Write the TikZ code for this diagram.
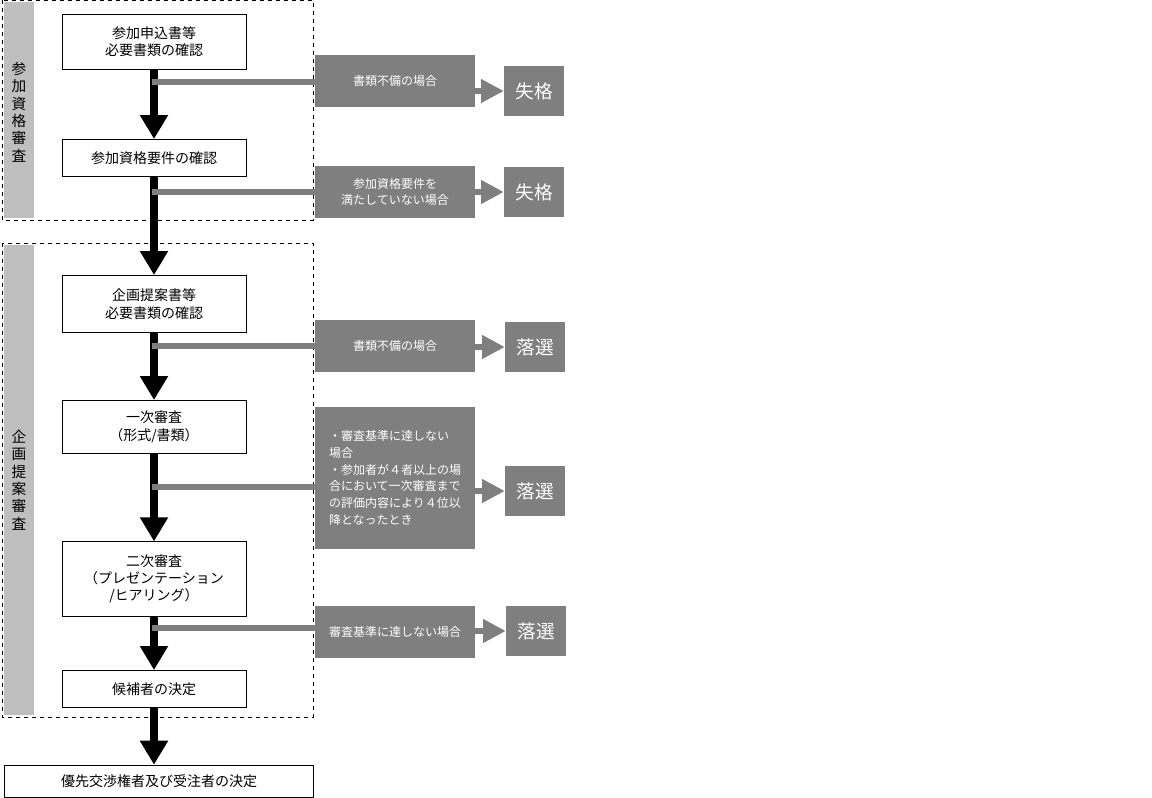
\documentclass[tikz,border=0pt]{standalone}
\usepackage{fontspec}
\setmainfont{Noto Sans CJK JP}
\usetikzlibrary{arrows.meta}
\definecolor{bargray}{HTML}{7F7F7F}
\definecolor{sidegray}{HTML}{BFBFBF}
\begin{document}
\begin{tikzpicture}[x=0.75pt, y=-0.75pt,
    stage/.style = {draw, thin, fill=white, minimum width=138pt, align=center, font=\fontsize{10.5}{13}\selectfont},
    note/.style = {fill=bargray, text=white, minimum width=120pt, minimum height=39pt, align=center, font=\fontsize{9}{11.5}\selectfont},
    result/.style = {fill=bargray, text=white, minimum width=45pt, minimum height=38pt, font=\fontsize{14}{16}\selectfont},
    flow/.style = {-{Triangle[length=18pt, width=20pt]}, line width=6.5pt, black},
    branch/.style = {bargray, line width=5pt},
    outarrow/.style = {-{Triangle[length=17pt, width=17pt]}, bargray, line width=4pt},
    group/.style = {draw, dashed, thin}]
    \useasboundingbox (0,0) rectangle (1152,798);

    % groups
    \draw[group] (2,0) rectangle (313,220);
    \fill[sidegray] (4,2) rectangle (34,218);
    \node[align=center, font=\fontsize{11}{13}\selectfont] (g1) at (19,112) {参\\加\\資\\格\\審\\査};
    \draw[group] (2,243) rectangle (313,717);
    \fill[sidegray] (4,245) rectangle (34,715);
    \node[align=center, font=\fontsize{11}{13}\selectfont] (g2) at (19,480) {企\\画\\提\\案\\審\\査};

    % stages
    \node[stage, minimum height=41pt] (apply) at (154,42) {参加申込書等\\必要書類の確認};
    \node[stage, minimum height=28pt] (qual) at (154,158) {参加資格要件の確認};
    \node[stage, minimum height=43pt] (plan) at (154,304) {企画提案書等\\必要書類の確認};
    \node[stage, minimum height=40pt] (first) at (154,427) {一次審査\\（形式/書類）};
    \node[stage, minimum height=56pt] (second) at (154,579) {二次審査\\（プレゼンテーション\\/ヒアリング）};
    \node[stage, minimum height=28pt] (cand) at (154,689) {候補者の決定};
    \node[stage, minimum width=232pt, minimum height=24pt] (final) at (159,781) {優先交渉権者及び受注者の決定};

    % main flow
    \draw[flow] (apply) -- (qual);
    \draw[flow] (qual) -- (plan);
    \draw[flow] (plan) -- (first);
    \draw[flow] (first) -- (second);
    \draw[flow] (second) -- (cand);
    \draw[flow] (cand.south) -- (cand.south |- final.north);

    % branches
    \node[note] (n1) at (395,81) {書類不備の場合};
    \node[note] (n2) at (395,192) {参加資格要件を\\満たしていない場合};
    \node[note] (n3) at (395,346) {書類不備の場合};
    \node[note, minimum height=107pt, align=left, font=\fontsize{9}{12.5}\selectfont] (n4) at (395,478) {・審査基準に達しない\\場合\\・参加者が４者以上の場\\合において一次審査まで\\の評価内容により４位以\\降となったとき};
    \node[note] (n5) at (395,632) {審査基準に達しない場合};

    \node[result] (r1) at (534,91) {失格};
    \node[result] (r2) at (534,192) {失格};
    \node[result] (r3) at (535,347) {落選};
    \node[result] (r4) at (535,491) {落選};
    \node[result] (r5) at (536,631) {落選};

    \coordinate (b1) at (152,82);
    \coordinate (b2) at (152,192);
    \coordinate (b3) at (152,346);
    \coordinate (b4) at (152,487);
    \coordinate (b5) at (152,628);
    \draw[branch] (b1) -- (b1 -| n1.west);
    \draw[branch] (b2) -- (b2 -| n2.west);
    \draw[branch] (b3) -- (b3 -| n3.west);
    \draw[branch] (b4) -- (b4 -| n4.west);
    \draw[branch] (b5) -- (b5 -| n5.west);

    \draw[outarrow] (n1.east |- r1) -- (r1);
    \draw[outarrow] (n2.east |- r2) -- (r2);
    \draw[outarrow] (n3.east |- r3) -- (r3);
    \draw[outarrow] (n4.east |- r4) -- (r4);
    \draw[outarrow] (n5.east |- r5) -- (r5);
\end{tikzpicture}
\end{document}
